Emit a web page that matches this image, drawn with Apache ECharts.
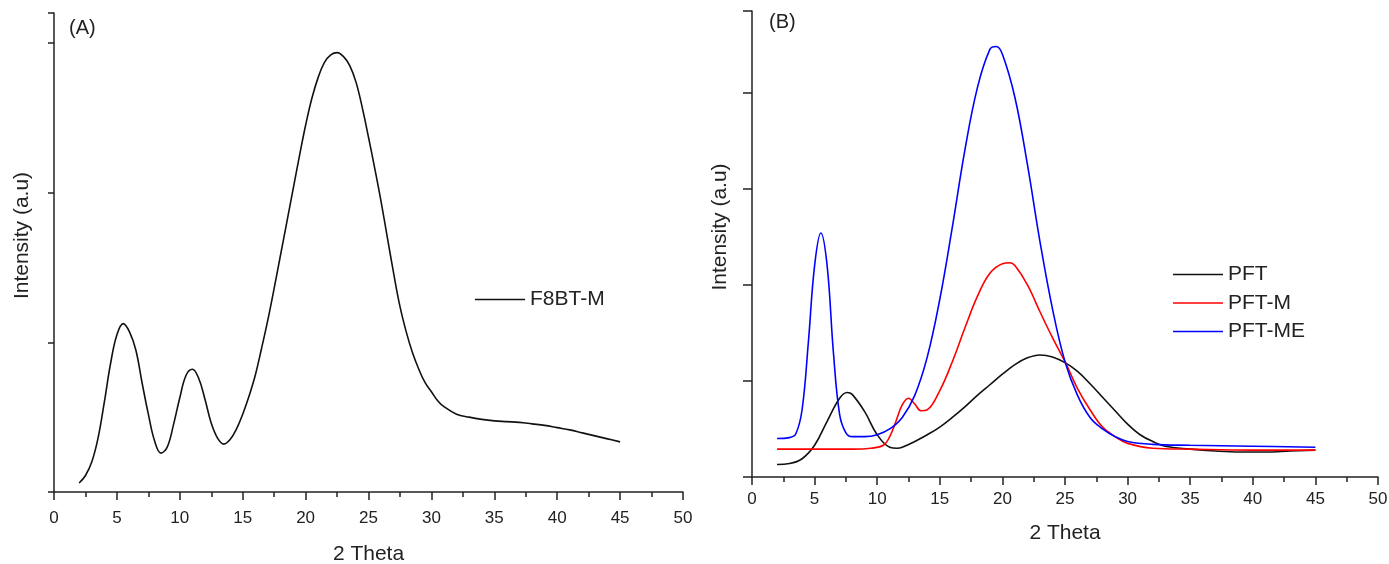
<!DOCTYPE html>
<html>
<head>
<meta charset="utf-8">
<script src="https://cdn.jsdelivr.net/npm/echarts@6/dist/echarts.min.js"></script>
<style>
  html, body { margin: 0; padding: 0; background: #fff; }
  #chart { width: 1389px; height: 564px; }
</style>
</head>
<body>
<div id="chart"></div>
<script>
// panel A: F8BT-M
const aX = [2, 2.5, 3, 3.5, 4, 4.5, 5, 5.5, 6, 6.5, 7, 7.5, 8, 8.5, 9, 9.5, 10, 10.5, 11, 11.5, 12, 12.5, 13, 13.5, 14, 14.5, 15, 15.5, 16, 16.5, 17, 17.5, 18, 18.5, 19, 19.5, 20, 20.5, 21, 21.5, 22, 22.5, 23, 23.5, 24, 24.5, 25, 25.5, 26, 26.5, 27, 27.5, 28, 28.5, 29, 29.5, 30, 30.5, 31, 32, 33, 34, 35, 36, 37, 38, 39, 40, 41, 42, 43, 44, 45];
const aY = [0.06, 0.11, 0.2, 0.36, 0.6, 0.86, 1.05, 1.125, 1.07, 0.95, 0.73, 0.52, 0.34, 0.26, 0.3, 0.45, 0.63, 0.78, 0.82, 0.76, 0.62, 0.46, 0.36, 0.32, 0.35, 0.42, 0.52, 0.64, 0.78, 0.96, 1.15, 1.36, 1.58, 1.8, 2.02, 2.24, 2.45, 2.63, 2.77, 2.87, 2.92, 2.935, 2.91, 2.85, 2.74, 2.57, 2.37, 2.16, 1.94, 1.7, 1.46, 1.24, 1.07, 0.93, 0.82, 0.73, 0.67, 0.61, 0.57, 0.52, 0.5, 0.485, 0.475, 0.47, 0.465, 0.455, 0.445, 0.43, 0.415, 0.395, 0.375, 0.355, 0.335];

// panel B: PFT / PFT-M / PFT-ME
const pftX = [2, 3, 4, 5, 6, 7, 7.6, 8, 9, 10, 11, 11.6, 12, 13, 14, 15, 16, 17, 18, 19, 20, 21, 22, 23, 24, 25, 26, 27, 28, 29, 30, 31, 32, 33, 35, 37, 39, 41, 43, 45];
const pftY = [0.13, 0.14, 0.19, 0.33, 0.58, 0.82, 0.88, 0.86, 0.68, 0.44, 0.31, 0.3, 0.31, 0.37, 0.44, 0.52, 0.62, 0.73, 0.85, 0.96, 1.07, 1.17, 1.24, 1.27, 1.25, 1.19, 1.1, 0.97, 0.83, 0.69, 0.55, 0.44, 0.37, 0.32, 0.29, 0.27, 0.26, 0.26, 0.27, 0.28];
const pftmX = [2, 5, 8, 9.5, 10.5, 11, 11.5, 12, 12.5, 13, 13.5, 14, 15, 16, 17, 18, 19, 20, 20.6, 21, 22, 23, 24, 25, 26, 27, 28, 29, 30, 32, 35, 40, 45];
const pftmY = [0.29, 0.29, 0.29, 0.3, 0.33, 0.42, 0.58, 0.75, 0.82, 0.76, 0.69, 0.7, 0.9, 1.2, 1.55, 1.88, 2.12, 2.22, 2.23, 2.2, 2.0, 1.72, 1.45, 1.2, 0.92, 0.7, 0.52, 0.42, 0.35, 0.3, 0.29, 0.28, 0.28];
const pftmeX = [2, 3, 3.5, 4, 4.5, 5, 5.5, 6, 6.5, 7, 7.5, 8, 9, 10, 11, 12, 13, 14, 15, 16, 17, 18, 19, 19.5, 20, 21, 22, 23, 24, 25, 26, 27, 28, 29, 30, 32, 35, 40, 45];
const pftmeY = [0.4, 0.41, 0.45, 0.7, 1.4, 2.2, 2.54, 2.2, 1.3, 0.65, 0.46, 0.42, 0.42, 0.44, 0.5, 0.62, 0.85, 1.25, 1.85, 2.6, 3.4, 4.05, 4.45, 4.48, 4.4, 3.95, 3.25, 2.45, 1.75, 1.2, 0.85, 0.62, 0.5, 0.42, 0.37, 0.34, 0.33, 0.32, 0.31];

const pairs = (xs, ys) => xs.map((x, i) => [x, ys[i]]);

const font = "Liberation Sans";

function xAxisFor(gridIndex) {
  return {
    gridIndex: gridIndex,
    type: "value",
    min: 0,
    max: 50,
    interval: 5,
    name: "2 Theta",
    nameLocation: "middle",
    nameGap: gridIndex === 0 ? 52 : 46,
    nameTextStyle: { fontFamily: font, fontSize: 21, color: "#222" },
    axisLine: { lineStyle: { color: "#222", width: 1.5 } },
    axisTick: { length: 8, lineStyle: { color: "#222", width: 1.5 } },
    minorTick: { show: true, splitNumber: 2, length: 5, lineStyle: { color: "#222", width: 1.5 } },
    axisLabel: { fontFamily: font, fontSize: 17, color: "#222", margin: gridIndex === 0 ? 18 : 14 },
    splitLine: { show: false },
  };
}

function yAxisFor(gridIndex, max) {
  return {
    gridIndex: gridIndex,
    type: "value",
    min: 0,
    max: max,
    interval: 1,
    name: "Intensity (a.u)",
    nameLocation: "middle",
    nameGap: 21,
    nameTextStyle: { fontFamily: font, fontSize: 21, color: "#222", padding: [0, 0, 0, 34] },
    axisLine: { show: true, lineStyle: { color: "#222", width: 1.5 } },
    axisTick: { show: true, length: gridIndex === 0 ? 6 : 9, lineStyle: { color: "#222", width: 1.5 } },
    axisLabel: { show: false },
    splitLine: { show: false },
  };
}

function lineSeries(name, data, color, xi) {
  return {
    name: name,
    type: "line",
    xAxisIndex: xi,
    yAxisIndex: xi,
    data: data,
    smooth: 0.4,
    symbol: "none",
    lineStyle: { color: color, width: 1.6 },
    itemStyle: { color: color },
    z: 3,
  };
}

const legendText = { fontFamily: font, fontSize: 21, color: "#222" };

const chart = echarts.init(document.getElementById("chart"), null, { renderer: "canvas" });

chart.setOption({
  animation: false,
  backgroundColor: "#fff",
  title: [
    { text: "(A)", left: 64, top: 13, textStyle: { fontFamily: font, fontSize: 20, fontWeight: "normal", color: "#222" } },
    { text: "(B)", left: 764, top: 7, textStyle: { fontFamily: font, fontSize: 20, fontWeight: "normal", color: "#222" } },
  ],
  grid: [
    { left: 54, right: 706, top: 13, bottom: 72, outerBoundsMode: "none" },
    { left: 752, right: 11, top: 11, bottom: 87, outerBoundsMode: "none" },
  ],
  xAxis: [xAxisFor(0), xAxisFor(1)],
  yAxis: [yAxisFor(0, 3.2), yAxisFor(1, 4.85)],
  legend: [
    {
      data: ["F8BT-M"],
      left: 470,
      top: 284,
      icon: "rect",
      itemWidth: 50,
      itemHeight: 1.6,
      textStyle: legendText,
    },
    {
      data: ["PFT", "PFT-M", "PFT-ME"],
      orient: "vertical",
      left: 1168,
      top: 259,
      icon: "rect",
      itemWidth: 50,
      itemHeight: 1.6,
      itemGap: 7.5,
      textStyle: legendText,
    },
  ],
  series: [
    lineSeries("F8BT-M", pairs(aX, aY), "#111", 0),
    lineSeries("PFT", pairs(pftX, pftY), "#111", 1),
    lineSeries("PFT-M", pairs(pftmX, pftmY), "#ff0000", 1),
    lineSeries("PFT-ME", pairs(pftmeX, pftmeY), "#0000ff", 1),
  ],
});
</script>
</body>
</html>
